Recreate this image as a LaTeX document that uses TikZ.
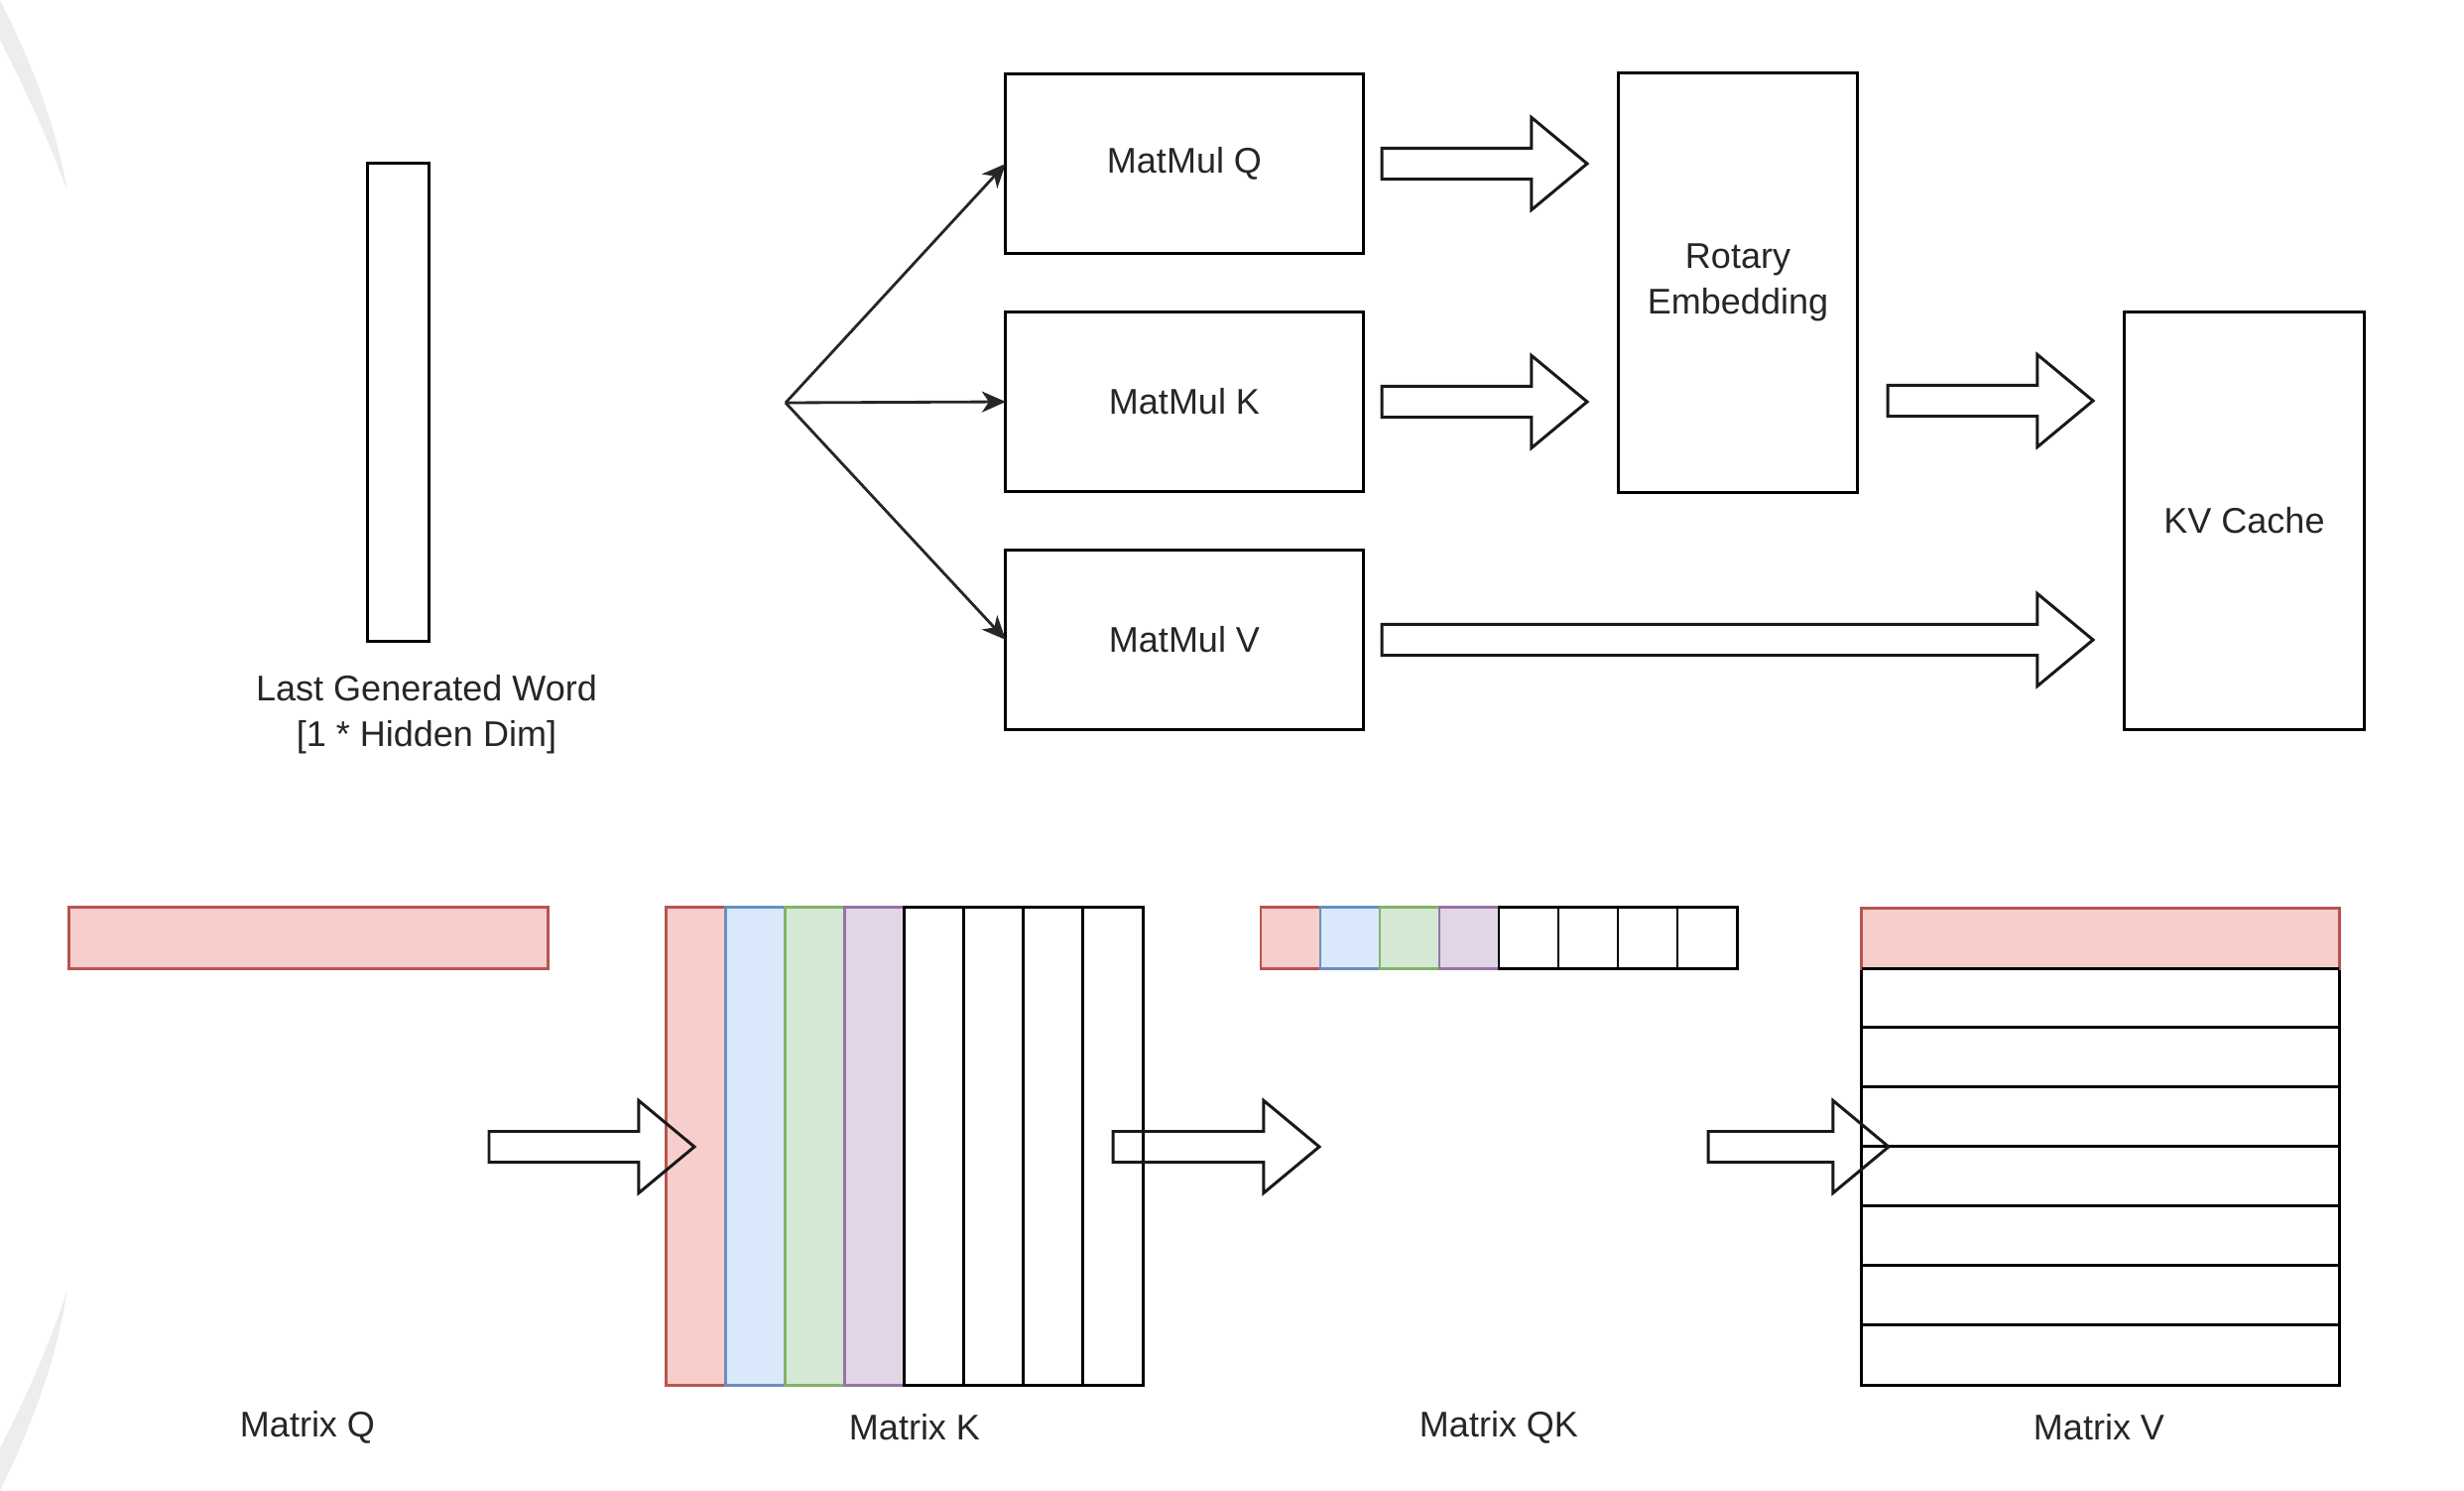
\documentclass[tikz,border=0pt]{standalone}
\usepackage{fontspec}
\setmainfont{Liberation Sans}
\usetikzlibrary{arrows.meta,calc}
\definecolor{txt}{HTML}{262626}
\definecolor{redf}{HTML}{F8CECC}\definecolor{redd}{HTML}{B85450}
\definecolor{bluef}{HTML}{DAE8FC}\definecolor{blued}{HTML}{6C8EBF}
\definecolor{greenf}{HTML}{D5E8D4}\definecolor{greend}{HTML}{82B366}
\definecolor{purplef}{HTML}{E1D5E7}\definecolor{purpled}{HTML}{9673A6}
\newcommand\bhs{0.155cm}
\newcommand\bhh{0.465cm}
\newcommand\bhl{0.56cm}
\newcommand\myblockarrow[2]{\draw[barrowline] let \p1=(#1), \p2=(#2) in
  (\x1,{\y1-\bhs}) -- ({\x2-\bhl},{\y1-\bhs}) -- ({\x2-\bhl},{\y1-\bhh}) -- (\x2,\y1)
  -- ({\x2-\bhl},{\y1+\bhh}) -- ({\x2-\bhl},{\y1+\bhs}) -- (\x1,{\y1+\bhs}) -- cycle;}
\tikzset{
  txtstyle/.style={font=\fontsize{10.24pt}{13.1pt}\selectfont, text=txt, align=center},
  box/.style={draw=black, line width=0.85pt, fill=white, inner sep=0pt, outer sep=0pt, txtstyle},
  cell/.style={draw=black, line width=0.85pt, inner sep=0pt, outer sep=0pt, minimum width=0.6cm, minimum height=0.61cm},
  kcol/.style={cell, minimum height=4.81cm},
  vrow/.style={cell, minimum width=4.81cm, minimum height=0.6cm},
  fanline/.style={draw=black!85, line width=0.8pt, -{Stealth[length=0.24cm,width=0.21cm,inset=0.07cm]}},
  barrowline/.style={draw=black!90, line width=0.85pt, line join=miter},
  lbl/.style={txtstyle, inner sep=0pt},
}
\begin{document}
\begin{tikzpicture}[x=0.01cm,y=-0.01cm]
\useasboundingbox (0,0) rectangle (2484,1503);
\fill[white] (0,0) rectangle (2484,1503);
% faint screen artefacts at the left edge
\fill[black!7] (0,0) .. controls (30,60) and (55,120) .. (68,193) .. controls (45,130) and (20,80) .. (0,40) -- cycle;
\fill[black!7] (0,1503) .. controls (30,1440) and (55,1380) .. (68,1300) .. controls (45,1370) and (20,1420) .. (0,1460) -- cycle;

% ---------- top part ----------
\node[box, minimum width=0.61cm, minimum height=4.81cm] (word) at (401.5,405.5) {};
\node[lbl] (wordlbl) at (430,720) {Last Generated Word\\{[1 * Hidden Dim]}};

\node[box, minimum width=3.6cm, minimum height=1.81cm] (mq) at (1194,165) {MatMul Q};
\node[box, minimum width=3.6cm, minimum height=1.81cm] (mk) at (1194,405) {MatMul K};
\node[box, minimum width=3.6cm, minimum height=1.81cm] (mv) at (1194,645) {MatMul V};
\node[box, minimum width=2.4cm, minimum height=4.22cm] (rot) at (1752,285) {Rotary\\Embedding};
\node[box, minimum width=2.41cm, minimum height=4.2cm] (kv) at (2262.5,525) {KV Cache};

\coordinate (fan) at (792,406);
\draw[fanline] (fan) -- (mq.west);
\draw[fanline] (fan) -- (mk.west);
\draw[fanline] (fan) -- (mv.west);

\coordinate (aqs) at (1393,165); \coordinate (aqt) at (1600,165);
\coordinate (aks) at (1393,405); \coordinate (akt) at (1600,405);
\coordinate (ars) at (1903,404); \coordinate (art) at (2110,404);
\coordinate (avs) at (1393,645); \coordinate (avt) at (2110,645);
\myblockarrow{aqs}{aqt}
\myblockarrow{aks}{akt}
\myblockarrow{ars}{art}
\myblockarrow{avs}{avt}

% ---------- bottom part ----------
\node[cell, draw=redd, fill=redf, minimum width=4.82cm] (matq) at (311,945.5) {};
\node[lbl] (matqlbl) at (310,1439) {Matrix Q};

% Matrix K columns
\node[kcol, draw=redd, fill=redf] (k1) at (702,1155.5) {};
\node[kcol, draw=blued, fill=bluef] (k2) at (762,1155.5) {};
\node[kcol, draw=greend, fill=greenf] (k3) at (822,1155.5) {};
\node[kcol, draw=purpled, fill=purplef] (k4) at (882,1155.5) {};
\node[kcol, fill=white] (k5) at (942,1155.5) {};
\node[kcol, fill=white] (k6) at (1002,1155.5) {};
\node[kcol, fill=white] (k7) at (1062,1155.5) {};
\node[kcol, fill=white] (k8) at (1122,1155.5) {};
\node[lbl] (matklbl) at (922,1439) {Matrix K};

% Matrix QK cells
\node[cell, draw=redd, fill=redf] (qk1) at (1301,945.5) {};
\node[cell, draw=blued, fill=bluef] (qk2) at (1361,945.5) {};
\node[cell, draw=greend, fill=greenf] (qk3) at (1421,945.5) {};
\node[cell, draw=purpled, fill=purplef] (qk4) at (1481,945.5) {};
\node[cell, fill=white] (qk5) at (1541,945.5) {};
\node[cell, fill=white] (qk6) at (1601,945.5) {};
\node[cell, fill=white] (qk7) at (1661,945.5) {};
\node[cell, fill=white] (qk8) at (1721,945.5) {};
\node[lbl] (matqklbl) at (1511,1439) {Matrix QK};

% Matrix V rows
\node[vrow, fill=white] (v2) at (2117.5,1006) {};
\node[vrow, fill=white] (v3) at (2117.5,1066) {};
\node[vrow, fill=white] (v4) at (2117.5,1126) {};
\node[vrow, fill=white] (v5) at (2117.5,1186) {};
\node[vrow, fill=white] (v6) at (2117.5,1246) {};
\node[vrow, fill=white] (v7) at (2117.5,1306) {};
\node[vrow, fill=white] (v8) at (2117.5,1366) {};
\node[vrow, draw=redd, fill=redf] (v1) at (2117.5,946) {};
\draw[line width=0.85pt] (v1.south west) -- (v1.south east);
\node[lbl] (matvlbl) at (2116,1439) {Matrix V};

\coordinate (b1s) at (493,1156); \coordinate (b1t) at (700,1156);
\coordinate (b2s) at (1122,1156); \coordinate (b2t) at (1330,1156);
\coordinate (b3s) at (1722,1156); \coordinate (b3t) at (1904,1156);
\myblockarrow{b1s}{b1t}
\myblockarrow{b2s}{b2t}
\myblockarrow{b3s}{b3t}
\end{tikzpicture}
\end{document}
